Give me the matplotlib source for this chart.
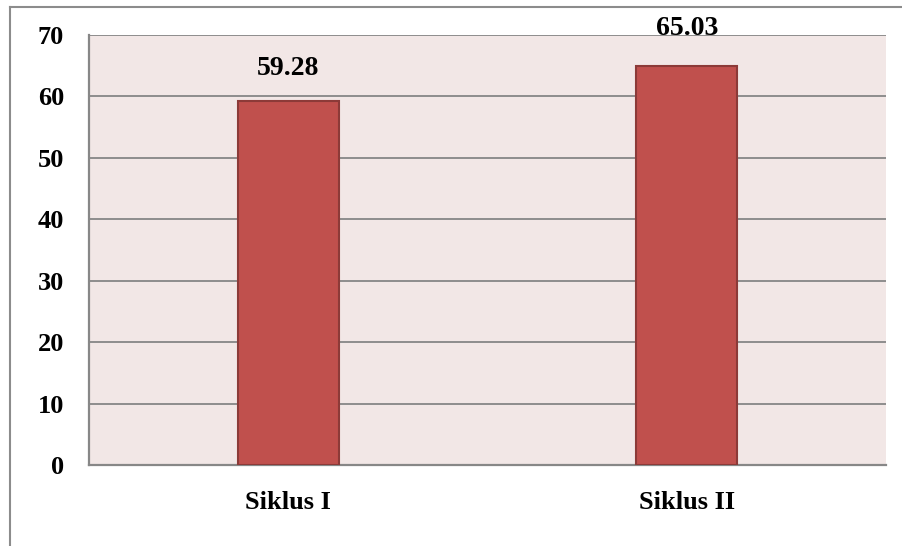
import numpy as np
import matplotlib.pyplot as plt
from matplotlib.lines import Line2D

plt.rcParams['font.family'] = ['Liberation Serif', 'DejaVu Serif']

categories = ['Siklus I', 'Siklus II']
values = [59.28, 65.03]
label_offsets = [32, 37]  # pixels above bar top (label centre)

fig = plt.figure(figsize=(9.02, 5.46), dpi=100, facecolor='white')
ax = fig.add_axes([89/902, 1-465/546, (886-89)/902, (465-35)/546])
ax.set_facecolor('#f2e7e6')

x = np.arange(len(categories))
ax.bar(x, values, width=0.254, color='#c0504d', edgecolor='#8c3a38',
       linewidth=1.5, zorder=3)

for xi, v, off in zip(x, values, label_offsets):
    ax.annotate(f'{v:.2f}', (xi, v), xytext=(0, off), textcoords='offset pixels',
                ha='center', va='center', fontsize=20, fontweight='bold',
                annotation_clip=False, zorder=5)

ax.set_xlim(-0.5, 1.5)
ax.set_ylim(0, 70)
ax.set_yticks(range(0, 71, 10))
ax.set_xticks(x)
ax.set_xticklabels(categories)
ax.yaxis.grid(True, color='#868686', linewidth=1.3, zorder=1)
ax.set_axisbelow(True)
ax.tick_params(axis='both', length=0, labelsize=19)
ax.tick_params(axis='y', pad=18)
ax.tick_params(axis='x', pad=19)
for lab in ax.get_xticklabels() + ax.get_yticklabels():
    lab.set_fontweight('bold')

for side in ['top', 'right']:
    ax.spines[side].set_visible(False)
for side in ['left', 'bottom']:
    ax.spines[side].set_color('#878787')
    ax.spines[side].set_linewidth(1.6)

# outer chart border
fig.add_artist(Line2D([9.5/902, 9.5/902], [0, 1-6.5/546], transform=fig.transFigure,
                      color='#8c8c8c', linewidth=1.5))
fig.add_artist(Line2D([9.5/902, 1], [1-6.5/546, 1-6.5/546], transform=fig.transFigure,
                      color='#8c8c8c', linewidth=1.5))

fig.savefig('out.png', dpi=100, facecolor='white')
